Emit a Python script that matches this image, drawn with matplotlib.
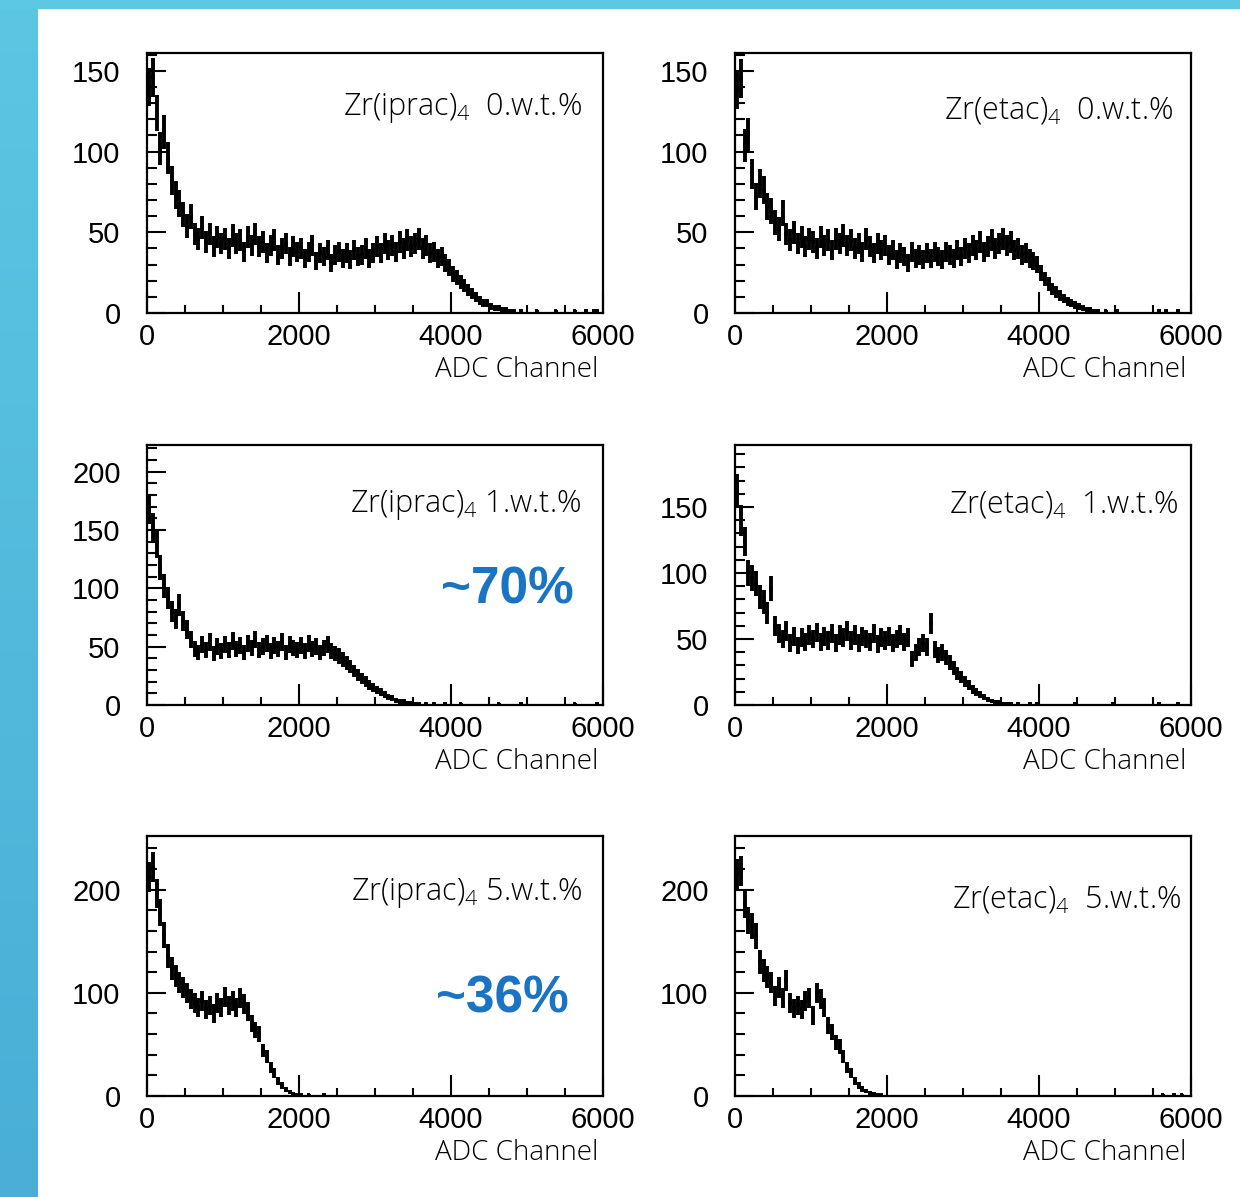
import numpy as np
import matplotlib
matplotlib.use('Agg')
import matplotlib.pyplot as plt
from matplotlib.ticker import MultipleLocator

plt.rcParams['mathtext.fontset'] = 'custom'
plt.rcParams['mathtext.rm'] = 'Open Sans:light'

# bins de 50 canales ADC, 0-6000
bin_width = 50
edges = np.arange(0, 6001, bin_width)

# Zr(iprac)4 0 w.t.%
iprac_0 = [140, 146, 124, 102, 112, 96, 82, 73, 68, 61,
           54, 60, 49, 46, 53, 44, 49, 41, 47, 43,
           46, 40, 48, 43, 45, 38, 47, 42, 49, 41,
           44, 37, 42, 45, 36, 40, 43, 35, 41, 38,
           40, 34, 38, 42, 32, 37, 35, 39, 31, 36,
           38, 34, 37, 33, 39, 35, 36, 40, 34, 37,
           41, 37, 43, 39, 42, 38, 44, 40, 45, 41,
           43, 46, 40, 42, 37, 38, 34, 35, 31, 28,
           24, 22, 19, 17, 14, 12, 10, 8, 6, 6,
           4, 3, 3, 2, 2, 1, 1, 0, 1, 0,
           0, 0, 1, 0, 0, 0, 0, 1, 0, 0,
           0, 0, 1, 0, 0, 1, 0, 1, 1, 0]

# Zr(etac)4 0 w.t.%
etac_0 = [138, 145, 104, 110, 86, 72, 80, 76, 66, 63,
          56, 52, 62, 49, 45, 50, 43, 47, 41, 46,
          44, 40, 47, 42, 45, 39, 46, 43, 48, 42,
          45, 40, 43, 38, 46, 41, 37, 43, 39, 42,
          36, 39, 33, 37, 35, 31, 38, 34, 36, 33,
          37, 34, 38, 35, 33, 38, 36, 34, 39, 35,
          40, 37, 42, 39, 44, 38, 41, 45, 40, 43,
          46, 42, 44, 39, 40, 36, 37, 34, 32, 30,
          25, 21, 18, 15, 13, 11, 9, 7, 6, 5,
          4, 3, 2, 2, 1, 1, 0, 1, 0, 0,
          1, 0, 0, 0, 0, 0, 0, 0, 0, 0,
          0, 1, 0, 1, 0, 0, 1, 0, 0, 0]

# Zr(iprac)4 1 w.t.%
iprac_1 = [168, 152, 138, 118, 102, 92, 80, 74, 86, 72,
           65, 56, 48, 45, 52, 47, 54, 44, 50, 46,
           52, 47, 55, 48, 51, 45, 53, 49, 56, 47,
           50, 53, 46, 51, 48, 54, 45, 52, 49, 47,
           51, 46, 53, 48, 50, 45, 49, 52, 46, 44,
           42, 39, 36, 33, 29, 26, 23, 20, 17, 15,
           13, 11, 9, 7, 6, 4, 3, 3, 2, 2,
           1, 1, 0, 1, 0, 1, 0, 0, 1, 0,
           0, 0, 1, 0, 0, 0, 0, 0, 0, 0,
           0, 0, 1, 0, 0, 0, 0, 0, 1, 0,
           0, 0, 0, 0, 0, 0, 0, 0, 0, 0,
           0, 0, 1, 0, 0, 0, 0, 0, 1, 0]

# Zr(etac)4 1 w.t.%
etac_1 = [162, 140, 124, 100, 96, 92, 82, 78, 70, 88,
          60, 54, 50, 56, 47, 52, 45, 51, 48, 53,
          50, 55, 48, 52, 49, 54, 47, 53, 51, 56,
          49, 53, 47, 52, 50, 48, 54, 46, 51, 49,
          52, 47, 50, 53, 48, 51, 35, 40, 44, 47,
          44, 62, 42, 38, 40, 36, 32, 28, 24, 21,
          18, 15, 12, 10, 8, 6, 4, 3, 2, 2,
          1, 1, 1, 0, 1, 0, 0, 1, 0, 1,
          0, 0, 0, 0, 0, 0, 0, 0, 0, 1,
          0, 0, 0, 0, 0, 0, 0, 0, 0, 1,
          0, 0, 0, 0, 0, 0, 0, 0, 0, 0,
          0, 1, 0, 0, 0, 0, 1, 0, 0, 0]

# Zr(iprac)4 5 w.t.%
iprac_5 = [212, 222, 196, 178, 156, 136, 124, 116, 110, 105,
           100, 94, 90, 86, 92, 84, 88, 80, 90, 86,
           96, 88, 92, 86, 95, 89, 82, 70, 64, 60,
           44, 38, 28, 22, 15, 10, 6, 4, 2, 1,
           1, 0, 1, 0, 0, 0, 1, 0, 0, 0,
           0, 0, 0, 0, 0, 0, 0, 0, 0, 0,
           0, 0, 0, 0, 0, 0, 0, 0, 0, 0,
           0, 0, 0, 0, 0, 0, 0, 0, 0, 0,
           0, 0, 0, 0, 0, 0, 0, 0, 0, 0,
           0, 0, 0, 0, 0, 0, 0, 0, 0, 0,
           0, 0, 0, 0, 0, 0, 0, 0, 0, 0,
           0, 0, 0, 0, 0, 0, 0, 0, 0, 0]

# Zr(etac)4 5 w.t.%
etac_5 = [215, 218, 186, 170, 165, 155, 130, 122, 115, 110,
          97, 105, 95, 112, 90, 85, 88, 84, 92, 95,
          78, 100, 94, 86, 68, 62, 52, 48, 38, 28,
          22, 15, 10, 7, 5, 3, 2, 1, 1, 0,
          0, 0, 0, 0, 0, 0, 0, 0, 0, 0,
          0, 0, 0, 0, 0, 0, 0, 0, 0, 0,
          0, 0, 0, 0, 0, 0, 0, 0, 0, 0,
          0, 0, 0, 0, 0, 0, 0, 0, 0, 0,
          0, 0, 0, 0, 0, 0, 0, 0, 0, 0,
          0, 0, 0, 0, 0, 0, 0, 0, 0, 0,
          0, 0, 0, 0, 0, 0, 0, 0, 0, 0,
          0, 0, 1, 0, 0, 1, 0, 1, 0, 0]

labels = [r'Zr(iprac)$_{4}$  0.w.t.%', r'Zr(etac)$_{4}$  0.w.t.%',
          r'Zr(iprac)$_{4}$ 1.w.t.%', r'Zr(etac)$_{4}$  1.w.t.%',
          r'Zr(iprac)$_{4}$ 5.w.t.%', r'Zr(etac)$_{4}$  5.w.t.%']
series = [iprac_0, etac_0, iprac_1, etac_1, iprac_5, etac_5]
ymax = [161, 161, 223, 197, 252, 252]
ymajor = [50, 50, 50, 50, 100, 100]
yminor = [10, 10, 10, 10, 20, 20]
label_pos = [(0.954, 0.79), (0.960, 0.78), (0.952, 0.77),
             (0.971, 0.77), (0.954, 0.78), (0.978, 0.755)]
efficiency = {2: ('~70%', 0.79, 0.442), 4: ('~36%', 0.78, 0.372)}

W, H = 1240, 1197
fig = plt.figure(figsize=(W / 100, H / 100), dpi=100)
fig.patch.set_facecolor('white')

# franjas azules del fondo
grad_ax = fig.add_axes([0, 0, 38 / W, 1])
grad = np.linspace(0, 1, 256).reshape(-1, 1)
cmap = matplotlib.colors.LinearSegmentedColormap.from_list('bg', ['#4aaed6', '#5cc6e3'])
grad_ax.imshow(grad, aspect='auto', cmap=cmap, origin='lower', extent=[0, 1, 0, 1])
grad_ax.axis('off')
fig.patches.append(plt.Rectangle((0, 1 - 8 / H), 1, 8 / H, transform=fig.transFigure,
                                 color='#5cc8e4', zorder=0))

lefts = [147, 735]
tops = [53, 445, 836]
tick_font = ['Liberation Sans', 'DejaVu Sans']
text_font = ['Open Sans', 'Noto Sans', 'DejaVu Sans']

centers = (edges[:-1] + edges[1:]) / 2

for i, counts in enumerate(series):
    row, col = divmod(i, 2)
    x0 = lefts[col] / W
    w = 456 / W
    y0 = 1 - (tops[row] + 260) / H
    h = 260 / H
    ax = fig.add_axes([x0, y0, w, h])

    c = np.array(counts, dtype=float)
    m = c > 0
    # barras de error tipo ROOT: sqrt(N) en y, media anchura de bin en x
    ax.errorbar(centers[m], c[m], yerr=np.sqrt(c[m]), xerr=bin_width / 2,
                fmt='none', ecolor='black', elinewidth=2.8, capsize=0)

    ax.set_xlim(0, 6000)
    ax.set_ylim(0, ymax[i])
    ax.xaxis.set_major_locator(MultipleLocator(2000))
    ax.xaxis.set_minor_locator(MultipleLocator(500))
    ax.yaxis.set_major_locator(MultipleLocator(ymajor[i]))
    ax.yaxis.set_minor_locator(MultipleLocator(yminor[i]))
    ax.tick_params(which='both', direction='in', top=False, right=False, width=1.5)
    ax.tick_params(axis='x', which='major', length=15, pad=7)
    ax.tick_params(axis='x', which='minor', length=6)
    ax.tick_params(axis='y', which='major', length=14, pad=19)
    ax.tick_params(axis='y', which='minor', length=7)
    for lab in ax.get_xticklabels() + ax.get_yticklabels():
        lab.set_family(tick_font)
        lab.set_fontsize(21)
    for sp in ax.spines.values():
        sp.set_linewidth(1.6)

    lx, ly = label_pos[i]
    ax.text(lx, ly, labels[i], transform=ax.transAxes, ha='right', va='center',
            fontsize=22, family=text_font, fontweight='light')
    ax.text(0.99, -0.22, 'ADC Channel', transform=ax.transAxes, ha='right',
            va='center', fontsize=20, family=text_font, fontweight='light')

    if i in efficiency:
        txt, ex, ey = efficiency[i]
        ax.text(ex, ey, txt, transform=ax.transAxes, ha='center', va='center',
                fontsize=37, fontweight='bold', color='#1a74c4',
                family=tick_font)

fig.savefig('out.png', dpi=100)
